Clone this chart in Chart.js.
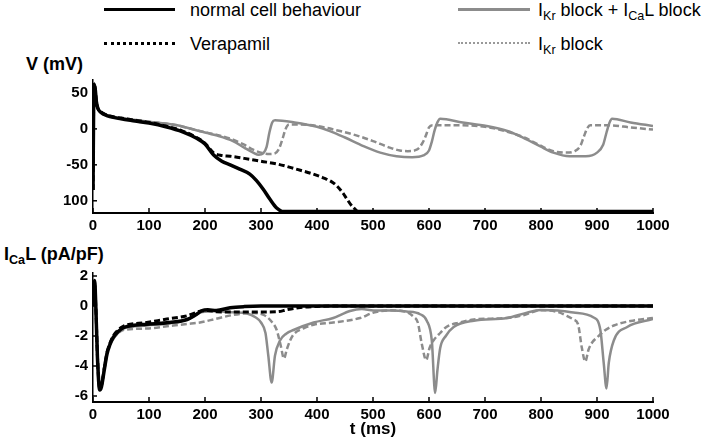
<!DOCTYPE html>
<html>
<head>
<meta charset="utf-8">
<script src="https://cdn.jsdelivr.net/npm/chart.js@4"></script>
<style>
  body { margin: 0; background: #fff; }
  #wrap { position: relative; width: 709px; height: 443px; font-family: "Liberation Sans", Arial, sans-serif; color: #000; }
  canvas { position: absolute; left: 0; }
  .lg { position: absolute; font-size: 18px; line-height: 18px; white-space: nowrap; }
  .ln { position: absolute; height: 0; }
  .ttl { position: absolute; font-size: 18px; line-height: 18px; font-weight: bold; white-space: nowrap; }
  sub { font-size: 70%; vertical-align: -4px; line-height: 0; }
</style>
</head>
<body>
<div id="wrap">
  <div class="ln" style="left:104px; top:8px; width:71px; border-top:3.5px solid #000;"></div>
  <div class="lg" style="left:190px; top:1px;">normal cell behaviour</div>
  <div class="ln" style="left:458px; top:8px; width:72px; border-top:3px solid #8c8c8c;"></div>
  <div class="lg" style="left:538px; top:1px;">I<sub>Kr</sub> block + I<sub>Ca</sub>L block</div>
  <div class="ln" style="left:104px; top:42px; width:71px; border-top:3px dotted #000;"></div>
  <div class="lg" style="left:190px; top:35px;">Verapamil</div>
  <div class="ln" style="left:458px; top:42px; width:72px; border-top:2px dotted #999;"></div>
  <div class="lg" style="left:538px; top:35px;">I<sub>Kr</sub> block</div>

  <div class="ttl" style="left:26px; top:55px;">V (mV)</div>
  <div class="ttl" style="left:4px; top:245px;">I<sub>Ca</sub>L (pA/pF)</div>

  <canvas id="cV" width="709" height="240" style="top:0; width:709px; height:240px;"></canvas>
  <canvas id="cI" width="709" height="203" style="top:240px; width:709px; height:203px;"></canvas>
</div>
<script>
// membrane potential V (mV)
const tNormV = [0, 1, 2, 4, 6, 9, 14, 20, 30, 50, 75, 100, 130, 160, 185, 200, 215, 230, 245, 262, 280, 292, 304, 316, 328, 340, 1000];
const vNorm  = [-85, 20, 62, 55, 38, 28, 23, 20, 17, 14, 11, 8, 3, -4, -13, -21, -36, -45, -50, -56, -63, -72, -84, -98, -110, -115, -115];

const tVeraV = [0, 1, 2, 4, 6, 9, 14, 20, 30, 50, 75, 100, 130, 160, 185, 200, 215, 230, 245, 270, 300, 330, 363, 390, 411, 425, 435, 445, 453, 460, 466, 474, 1000];
const vVera  = [-85, 20, 62, 55, 38, 28, 24, 21, 18, 15, 12, 9, 4, -3, -12, -20, -33, -37, -38, -41, -45, -49, -56, -62, -68, -73, -79, -88, -97, -105, -110, -115, -115];

const tKrV = [0, 1, 2, 4, 6, 9, 14, 20, 30, 50, 100, 150, 190, 220, 250, 270, 286, 300, 315, 325, 332, 338, 344, 350, 370, 400, 441, 470, 500, 530, 548, 562, 578, 588, 594, 600, 606, 650, 700, 740, 770, 798, 822, 845, 860, 870, 876, 882, 888, 920, 960, 1000];
const vKr  = [-85, 20, 62, 55, 38, 28, 24, 21, 18, 15, 10, 5, -3, -8, -15, -22, -29, -33, -35, -34, -28, -15, 0, 6, 6, 4, -3, -9, -17, -26, -30, -31, -29, -20, -10, 2, 5, 5, 3, -4, -12, -23, -31, -33, -31, -24, -12, 0, 5, 5, 2, -1];

const tKrCaV = [0, 1, 2, 4, 6, 9, 14, 20, 30, 50, 100, 150, 190, 220, 250, 270, 286, 296, 304, 310, 315, 320, 325, 360, 400, 423, 450, 483, 513, 542, 570, 590, 600, 605, 610, 615, 620, 660, 703, 740, 762, 798, 822, 851, 880, 900, 911, 917, 922, 927, 960, 1000];
const vKrCa  = [-85, 20, 64, 55, 38, 28, 24, 21, 18, 15, 10, 5, -3, -9, -17, -26, -33, -36, -34, -25, -5, 9, 12, 9, 3, -3, -12, -24, -33, -38, -39.5, -37, -30, -18, -2, 9, 14, 9, 4, -3, -10, -24, -33, -38, -38, -33, -22, -5, 8, 14, 9, 4];

const vTicks = [-100, -50, 0, 50];
const vTickLabels = ['100', '-50', '0', '50'];

// L-type calcium current ICaL (pA/pF)
const tNormI = [0, 2, 3, 5, 8, 12, 15, 20, 25, 30, 36, 45, 54, 70, 96, 137, 168, 183, 195, 205, 220, 245, 270, 300, 1000];
const iNorm  = [0, 1.0, 1.7, 0, -3.5, -5.6, -5.4, -4.3, -3.2, -2.6, -2.1, -1.7, -1.45, -1.3, -1.22, -1.1, -0.9, -0.6, -0.3, -0.25, -0.3, -0.12, -0.04, 0, 0];

const tVeraI = [0, 2, 3, 5, 8, 12, 15, 20, 25, 30, 36, 45, 54, 96, 132, 168, 191, 205, 220, 250, 300, 330, 346, 370, 400, 430, 1000];
const iVera  = [0, 0.8, 1.4, 0, -3.4, -5.5, -5.3, -4.2, -3.1, -2.5, -2.0, -1.6, -1.35, -1.1, -0.87, -0.65, -0.35, -0.3, -0.38, -0.4, -0.4, -0.38, -0.25, -0.1, -0.03, 0, 0];

const tKrI = [0, 2, 3, 5, 8, 12, 16, 20, 25, 30, 40, 54, 96, 132, 168, 191, 220, 250, 286, 305, 318, 328, 335, 341, 346, 352, 358, 375, 394, 429, 477, 501, 531, 560, 572, 580, 587, 595, 601, 608, 620, 631, 655, 680, 739, 770, 799, 830, 846, 858, 866, 873, 879, 885, 892, 900, 915, 930, 960, 1000];
const iKr  = [0, 1.0, 1.5, 0, -3.2, -5.2, -5.0, -4.0, -3.0, -2.5, -2.0, -1.6, -1.5, -1.35, -1.2, -1.1, -0.85, -0.6, -0.46, -0.6, -1.0, -1.6, -2.6, -3.5, -2.9, -2.3, -1.9, -1.5, -1.25, -1.1, -0.8, -0.44, -0.29, -0.4, -0.7, -1.1, -2.5, -3.6, -2.8, -2.3, -1.8, -1.4, -1.1, -0.9, -0.8, -0.6, -0.28, -0.4, -0.66, -0.9, -1.2, -2.8, -3.7, -2.9, -2.4, -2.1, -1.6, -1.3, -1.0, -0.8];

const tKrCaI = [0, 2, 3, 5, 8, 12, 16, 20, 25, 30, 40, 54, 96, 168, 195, 220, 250, 275, 290, 300, 308, 313, 319, 325, 334, 345, 358, 394, 429, 459, 480, 501, 531, 560, 584, 596, 605, 611, 615, 620, 630, 644, 680, 739, 775, 799, 830, 858, 894, 906, 912, 917, 921, 930, 954, 1000];
const iKrCa  = [0, 1.0, 1.5, 0, -3.3, -5.4, -5.2, -4.1, -3.1, -2.6, -2.0, -1.5, -1.3, -0.9, -0.4, -0.35, -0.42, -0.5, -0.75, -1.1, -1.8, -3.3, -5.1, -3.3, -2.3, -1.85, -1.6, -1.1, -0.8, -0.33, -0.2, -0.3, -0.3, -0.37, -0.55, -0.98, -2.3, -5.8, -4.3, -2.8, -2.0, -1.4, -0.98, -0.8, -0.44, -0.26, -0.3, -0.44, -0.77, -1.6, -3.8, -5.5, -3.8, -2.3, -1.4, -0.87];

const iTicks = [-6, -4, -2, 0, 2];

const GRAY = '#8c8c8c';
const tickFont = { family: 'Liberation Sans, Arial, sans-serif', size: 15, weight: 'bold' };

function pts(ts, vs) {
  return ts.map((t, i) => ({ x: t, y: vs[i] }));
}

function series(ts, vs, color, width, dash, order) {
  return {
    data: pts(ts, vs),
    borderColor: color,
    borderWidth: width,
    borderDash: dash,
    pointRadius: 0,
    fill: false,
    cubicInterpolationMode: 'monotone',
    order: order
  };
}

// ticks drawn inward, like the original
const inwardTicks = {
  id: 'inwardTicks',
  afterDraw(chart) {
    const { ctx, chartArea, scales } = chart;
    ctx.save();
    ctx.strokeStyle = '#000';
    ctx.lineWidth = 1.5;
    scales.x.ticks.forEach(t => {
      const px = scales.x.getPixelForValue(t.value);
      ctx.beginPath();
      ctx.moveTo(px, chartArea.bottom);
      ctx.lineTo(px, chartArea.bottom - 5);
      ctx.stroke();
    });
    scales.y.ticks.forEach(t => {
      const py = scales.y.getPixelForValue(t.value);
      ctx.beginPath();
      ctx.moveTo(chartArea.left, py);
      ctx.lineTo(chartArea.left + 4, py);
      ctx.stroke();
    });
    ctx.restore();
  }
};

function makeChart(canvasId, datasets, yMin, yMax, yTicks, yLabel, padTop, xHeight, xTitle) {
  return new Chart(document.getElementById(canvasId), {
    type: 'line',
    data: { datasets: datasets },
    options: {
      responsive: false,
      animation: false,
      layout: { padding: { top: padTop, right: 56, left: 0, bottom: 0 } },
      plugins: { legend: { display: false }, tooltip: { enabled: false } },
      scales: {
        x: {
          type: 'linear',
          min: 0,
          max: 1000,
          ticks: { stepSize: 100, color: '#000', font: tickFont, padding: 4, maxRotation: 0, callback: (v) => String(v) },
          grid: { drawOnChartArea: false, drawTicks: false },
          border: { display: true, color: '#000', width: 2 },
          title: xTitle ? {
            display: true,
            text: xTitle,
            color: '#000',
            font: { family: 'Liberation Sans, Arial, sans-serif', size: 17, weight: 'bold' },
            padding: { top: 0, bottom: 3 }
          } : { display: false },
          afterFit(scale) { scale.height = xHeight; }
        },
        y: {
          type: 'linear',
          min: yMin,
          max: yMax,
          afterBuildTicks(scale) { scale.ticks = yTicks.map(v => ({ value: v })); },
          ticks: {
            color: '#000',
            font: tickFont,
            padding: 5,
            callback: (v) => yLabel(v)
          },
          grid: { drawOnChartArea: false, drawTicks: false },
          border: { display: true, color: '#000', width: 1.5 },
          afterFit(scale) { scale.width = 93; }
        }
      }
    },
    plugins: [inwardTicks]
  });
}

makeChart('cV', [
  series(tNormV, vNorm, '#000', 3.5, [], 1),
  series(tVeraV, vVera, '#000', 3, [6, 3], 2),
  series(tKrCaV, vKrCa, GRAY, 2.5, [], 3),
  series(tKrV, vKr, GRAY, 2.5, [6, 3], 4)
], -117, 68, vTicks, v => vTickLabels[vTicks.indexOf(v)], 80, 27, null);

makeChart('cI', [
  series(tNormI, iNorm, '#000', 3.5, [], 1),
  series(tVeraI, iVera, '#000', 3, [6, 3], 2),
  series(tKrCaI, iKrCa, GRAY, 2.5, [], 3),
  series(tKrI, iKr, GRAY, 2.5, [6, 3], 4)
], -6.4, 2.2, iTicks, v => String(v), 33, 41, 't (ms)');
</script>
</body>
</html>
